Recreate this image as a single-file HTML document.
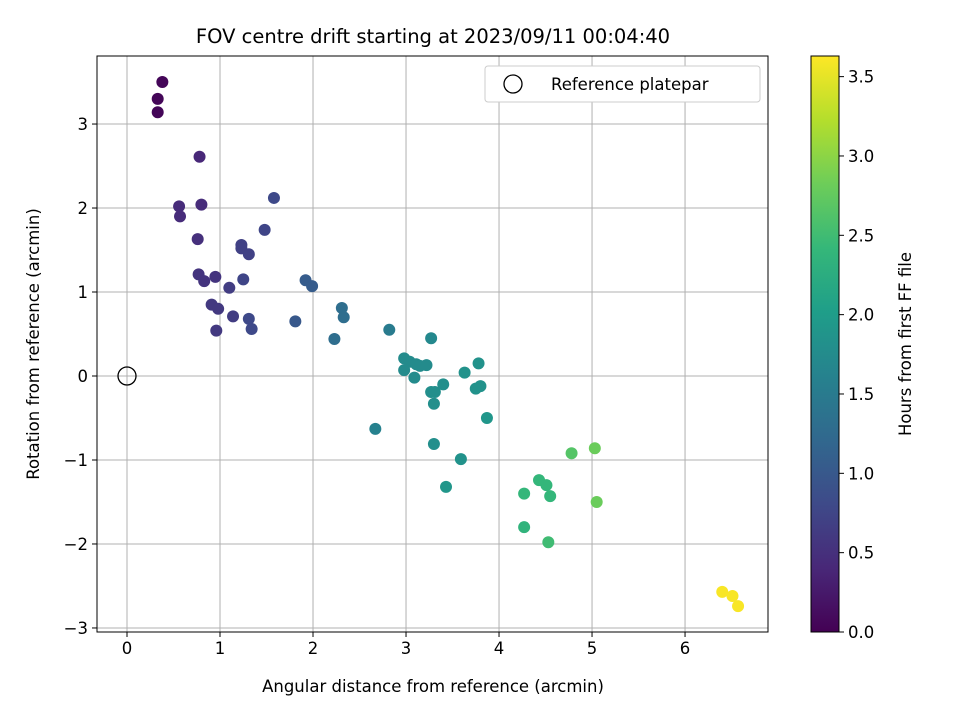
<!DOCTYPE html>
<html><head><meta charset="utf-8"><style>
body{margin:0;background:#fff;}
svg text{font-family:"DejaVu Sans","Liberation Sans",sans-serif;fill:#000;}
</style></head><body>
<svg id="chart" width="960" height="720" viewBox="0 0 960 720" xmlns="http://www.w3.org/2000/svg">
<rect width="960" height="720" fill="#fff"/>
<text x="433" y="43" font-size="19.5" text-anchor="middle">FOV centre drift starting at 2023/09/11 00:04:40</text>
<g id="grid"></g><g id="axes"></g><g id="marks"></g><g id="cbar"></g>
<text x="433" y="692" font-size="16.5" text-anchor="middle">Angular distance from reference (arcmin)</text>
<text transform="translate(39,344) rotate(-90)" font-size="16.5" text-anchor="middle">Rotation from reference (arcmin)</text>
<text transform="translate(911,344) rotate(-90)" font-size="16.5" text-anchor="middle">Hours from first FF file</text>
<g>
<rect x="485" y="66" width="275" height="36" rx="3" fill="#fff" stroke="#ccc"/>
<circle cx="513" cy="84" r="9" fill="none" stroke="#000" stroke-width="1.3"/>
<text x="551" y="90" font-size="16.5">Reference platepar</text>
</g>
</svg>
<script>
const xVals=[0.38,0.33,0.33,0.78,0.56,0.57,0.80,1.58,1.48,1.23,1.23,1.31,0.76,0.77,0.83,0.95,1.10,1.25,0.91,0.98,0.96,1.14,1.31,1.34,1.81,1.92,1.99,2.31,2.33,2.23,2.82,3.27,2.98,3.04,2.98,3.11,3.15,3.22,3.09,3.63,3.78,3.80,3.75,3.27,3.31,3.30,3.40,3.87,2.67,3.30,3.59,3.43,4.27,4.43,4.51,4.55,4.27,4.53,4.78,5.03,5.05,6.40,6.51,6.57];
const yVals=[3.50,3.30,3.14,2.61,2.02,1.90,2.04,2.12,1.74,1.56,1.52,1.45,1.63,1.21,1.13,1.18,1.05,1.15,0.85,0.80,0.54,0.71,0.68,0.56,0.65,1.14,1.07,0.81,0.70,0.44,0.55,0.45,0.21,0.17,0.07,0.14,0.12,0.13,-0.02,0.04,0.15,-0.12,-0.15,-0.19,-0.19,-0.33,-0.10,-0.50,-0.63,-0.81,-0.99,-1.32,-1.40,-1.24,-1.30,-1.43,-1.80,-1.98,-0.92,-0.86,-1.50,-2.57,-2.62,-2.74];
const hours=[0.05,0.05,0.05,0.4,0.45,0.45,0.45,0.8,0.75,0.7,0.7,0.7,0.5,0.55,0.55,0.55,0.65,0.75,0.6,0.6,0.6,0.65,0.8,0.8,1.0,1.05,1.05,1.3,1.3,1.3,1.5,1.7,1.75,1.75,1.75,1.75,1.75,1.75,1.75,1.85,1.85,1.85,1.85,1.8,1.8,1.8,1.8,1.9,1.6,1.8,1.85,1.9,2.4,2.4,2.4,2.4,2.35,2.5,2.65,2.8,2.8,3.6,3.6,3.6];
const xTicks=[0,1,2,3,4,5,6];
const yTicks=[3,2,1,0,-1,-2,-3];
const cTicks=[0,0.5,1,1.5,2,2.5,3,3.5];
const L=97,R=768,T=56,B=632;
const xMin=-0.3226,xMax=6.892,yMin=-3.048,yMax=3.81,cMax=3.63;
const sx=v=>L+(v-xMin)/(xMax-xMin)*(R-L);
const sy=v=>B-(v-yMin)/(yMax-yMin)*(B-T);
const sc=v=>B-v/cMax*(B-T);
const vir=[[68,1,84],[72,40,120],[62,74,137],[49,104,142],[38,130,142],[31,158,137],[53,183,121],[109,205,89],[180,222,44],[253,231,37]];
function cmap(t){t=Math.max(0,Math.min(1,t))*9;const i=Math.min(8,Math.floor(t)),f=t-i;const a=vir[i],b=vir[i+1];return 'rgb('+a.map((c,k)=>Math.round(c+(b[k]-c)*f)).join(',')+')';}
const NS='http://www.w3.org/2000/svg';
function mk(tag,attrs,parent,txt){const e=document.createElementNS(NS,tag);for(const k in attrs)e.setAttribute(k,attrs[k]);if(txt!==undefined)e.textContent=txt;document.getElementById(parent).appendChild(e);return e;}
xTicks.forEach(v=>{const x=sx(v);
 const g=mk('line',{x1:x,x2:x,y1:T,y2:B,stroke:'#b0b0b0','stroke-width':1},'grid');
 
 mk('line',{x1:x,x2:x,y1:B,y2:B+5,stroke:'#000'},'axes');
 const t=mk('text',{x:x,y:B+22,'font-size':16.5,'text-anchor':'middle'},'axes',String(v));
 });
yTicks.forEach(v=>{const y=sy(v);
 const g=mk('line',{x1:L,x2:R,y1:y,y2:y,stroke:'#b0b0b0','stroke-width':1},'grid');
 
 mk('line',{x1:L-5,x2:L,y1:y,y2:y,stroke:'#000'},'axes');
 const t=mk('text',{x:L-9,y:y+6,'font-size':16.5,'text-anchor':'end'},'axes',v<0?'\u2212'+(-v):String(v));
 });
const fr=mk('rect',{x:L,y:T,width:R-L,height:B-T,fill:'none',stroke:'#000','stroke-width':1},'axes');

xVals.forEach((v,i)=>{const c=mk('circle',{cx:sx(v),cy:sy(yVals[i]),r:6,fill:cmap(hours[i]/cMax)},'marks');
 });
const ref=mk('circle',{cx:sx(0),cy:sy(0),r:9,fill:'none',stroke:'#000','stroke-width':1.3},'marks');

const defs=mk('defs',{},'cbar');
const lg=document.createElementNS(NS,'linearGradient');lg.setAttribute('id','vg');lg.setAttribute('x1',0);lg.setAttribute('y1',1);lg.setAttribute('x2',0);lg.setAttribute('y2',0);defs.appendChild(lg);
vir.forEach((c,i)=>{const s=document.createElementNS(NS,'stop');s.setAttribute('offset',i/9);s.setAttribute('stop-color','rgb('+c.join(',')+')');lg.appendChild(s);});
const cb=mk('rect',{x:811,y:T,width:28,height:B-T,fill:'url(#vg)',stroke:'#000','stroke-width':1},'cbar');

cTicks.forEach(v=>{const y=sc(v);mk('line',{x1:839,x2:844,y1:y,y2:y,stroke:'#000'},'cbar');
 const t=mk('text',{x:848,y:y+6,'font-size':16.5},'cbar',v.toFixed(1));
 });
</script>
</body></html>
